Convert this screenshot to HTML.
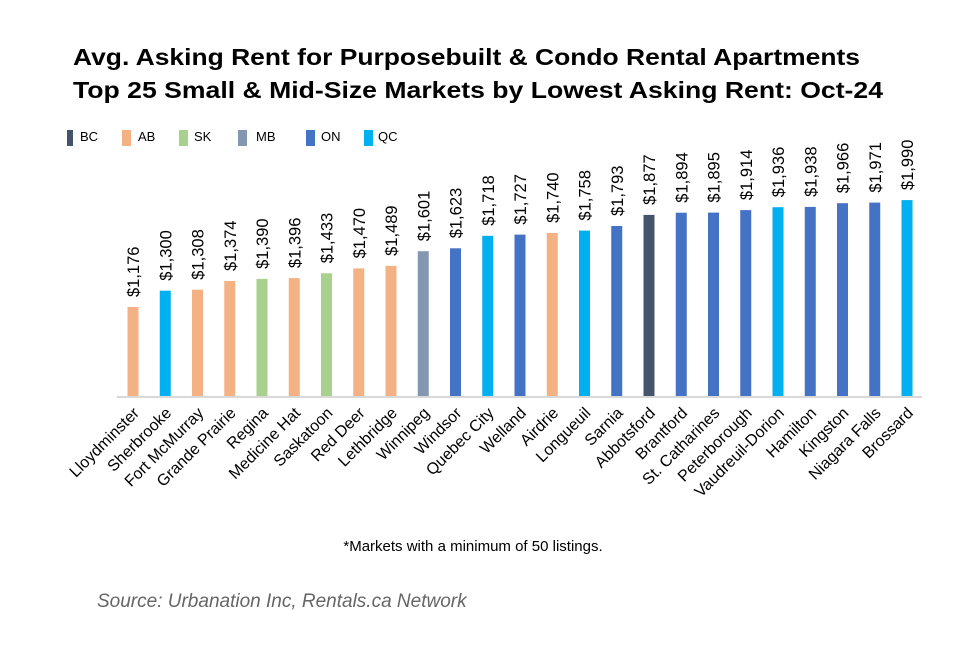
<!DOCTYPE html>
<html><head><meta charset="utf-8"><style>
body{margin:0;background:#fff;}
svg text{font-family:"Liberation Sans",Arial,sans-serif;}
</style></head><body>
<svg width="980" height="641" viewBox="0 0 980 641" xmlns="http://www.w3.org/2000/svg">
<text x="73" y="65" font-size="23.5" font-weight="bold" fill="#000" textLength="787" lengthAdjust="spacingAndGlyphs">Avg. Asking Rent for Purposebuilt &amp; Condo Rental Apartments</text>
<text x="73" y="98" font-size="23.5" font-weight="bold" fill="#000" textLength="810" lengthAdjust="spacingAndGlyphs">Top 25 Small &amp; Mid-Size Markets by Lowest Asking Rent: Oct-24</text>
<g font-size="13" fill="#000">
<rect x="67" y="130" width="6" height="16" fill="#44546a"/><text x="80" y="141">BC</text>
<rect x="122" y="130" width="9" height="16" fill="#f4b183"/><text x="138" y="141">AB</text>
<rect x="179" y="130" width="9" height="16" fill="#a9d18e"/><text x="194" y="141">SK</text>
<rect x="238" y="130" width="9" height="16" fill="#8497b0"/><text x="256" y="141">MB</text>
<rect x="306" y="130" width="9" height="16" fill="#4472c4"/><text x="321" y="141">ON</text>
<rect x="364" y="130" width="9" height="16" fill="#00b0f0"/><text x="378" y="141">QC</text>
</g>
<line x1="117" y1="397" x2="922" y2="397" stroke="#d9d9d9" stroke-width="2"/>
<g>
<rect x="127.5" y="307" width="11" height="89" fill="#f4b183"/>
<rect x="159.75" y="290.7" width="11" height="105.3" fill="#00b0f0"/>
<rect x="192" y="289.7" width="11" height="106.3" fill="#f4b183"/>
<rect x="224.25" y="281" width="11" height="115" fill="#f4b183"/>
<rect x="256.5" y="278.9" width="11" height="117.1" fill="#a9d18e"/>
<rect x="288.75" y="278.1" width="11" height="117.9" fill="#f4b183"/>
<rect x="321" y="273.3" width="11" height="122.7" fill="#a9d18e"/>
<rect x="353.25" y="268.4" width="11" height="127.6" fill="#f4b183"/>
<rect x="385.5" y="265.9" width="11" height="130.1" fill="#f4b183"/>
<rect x="417.75" y="251.2" width="11" height="144.8" fill="#8497b0"/>
<rect x="450" y="248.3" width="11" height="147.7" fill="#4472c4"/>
<rect x="482.25" y="235.8" width="11" height="160.2" fill="#00b0f0"/>
<rect x="514.5" y="234.6" width="11" height="161.4" fill="#4472c4"/>
<rect x="546.75" y="232.9" width="11" height="163.1" fill="#f4b183"/>
<rect x="579" y="230.6" width="11" height="165.4" fill="#00b0f0"/>
<rect x="611.25" y="226" width="11" height="170" fill="#4472c4"/>
<rect x="643.5" y="214.9" width="11" height="181.1" fill="#44546a"/>
<rect x="675.75" y="212.7" width="11" height="183.3" fill="#4472c4"/>
<rect x="708" y="212.6" width="11" height="183.4" fill="#4472c4"/>
<rect x="740.25" y="210.1" width="11" height="185.9" fill="#4472c4"/>
<rect x="772.5" y="207.2" width="11" height="188.8" fill="#00b0f0"/>
<rect x="804.75" y="206.9" width="11" height="189.1" fill="#4472c4"/>
<rect x="837" y="203.2" width="11" height="192.8" fill="#4472c4"/>
<rect x="869.25" y="202.6" width="11" height="193.4" fill="#4472c4"/>
<rect x="901.5" y="200.1" width="11" height="195.9" fill="#00b0f0"/>
</g>
<g font-size="16.5" fill="#000">
<text transform="translate(139,297) rotate(-90)">$1,176</text>
<text transform="translate(171.25,280.7) rotate(-90)">$1,300</text>
<text transform="translate(203.5,279.7) rotate(-90)">$1,308</text>
<text transform="translate(235.75,271) rotate(-90)">$1,374</text>
<text transform="translate(268,268.9) rotate(-90)">$1,390</text>
<text transform="translate(300.25,268.1) rotate(-90)">$1,396</text>
<text transform="translate(332.5,263.3) rotate(-90)">$1,433</text>
<text transform="translate(364.75,258.4) rotate(-90)">$1,470</text>
<text transform="translate(397,255.9) rotate(-90)">$1,489</text>
<text transform="translate(429.25,241.2) rotate(-90)">$1,601</text>
<text transform="translate(461.5,238.3) rotate(-90)">$1,623</text>
<text transform="translate(493.75,225.8) rotate(-90)">$1,718</text>
<text transform="translate(526,224.6) rotate(-90)">$1,727</text>
<text transform="translate(558.25,222.9) rotate(-90)">$1,740</text>
<text transform="translate(590.5,220.6) rotate(-90)">$1,758</text>
<text transform="translate(622.75,216) rotate(-90)">$1,793</text>
<text transform="translate(655,204.9) rotate(-90)">$1,877</text>
<text transform="translate(687.25,202.7) rotate(-90)">$1,894</text>
<text transform="translate(719.5,202.6) rotate(-90)">$1,895</text>
<text transform="translate(751.75,200.1) rotate(-90)">$1,914</text>
<text transform="translate(784,197.2) rotate(-90)">$1,936</text>
<text transform="translate(816.25,196.9) rotate(-90)">$1,938</text>
<text transform="translate(848.5,193.2) rotate(-90)">$1,966</text>
<text transform="translate(880.75,192.6) rotate(-90)">$1,971</text>
<text transform="translate(913,190.1) rotate(-90)">$1,990</text>
</g>
<g font-size="16" fill="#000" text-anchor="end">
<text transform="translate(140,414) rotate(-45)">Lloydminster</text>
<text transform="translate(172.25,414) rotate(-45)">Sherbrooke</text>
<text transform="translate(204.5,414) rotate(-45)">Fort McMurray</text>
<text transform="translate(236.75,414) rotate(-45)">Grande Prairie</text>
<text transform="translate(269,414) rotate(-45)">Regina</text>
<text transform="translate(301.25,414) rotate(-45)">Medicine Hat</text>
<text transform="translate(333.5,414) rotate(-45)">Saskatoon</text>
<text transform="translate(365.75,414) rotate(-45)">Red Deer</text>
<text transform="translate(398,414) rotate(-45)">Lethbridge</text>
<text transform="translate(430.25,414) rotate(-45)">Winnipeg</text>
<text transform="translate(462.5,414) rotate(-45)">Windsor</text>
<text transform="translate(494.75,414) rotate(-45)">Quebec City</text>
<text transform="translate(527,414) rotate(-45)">Welland</text>
<text transform="translate(559.25,414) rotate(-45)">Airdrie</text>
<text transform="translate(591.5,414) rotate(-45)">Longueuil</text>
<text transform="translate(623.75,414) rotate(-45)">Sarnia</text>
<text transform="translate(656,414) rotate(-45)">Abbotsford</text>
<text transform="translate(688.25,414) rotate(-45)">Brantford</text>
<text transform="translate(720.5,414) rotate(-45)">St. Catharines</text>
<text transform="translate(752.75,414) rotate(-45)">Peterborough</text>
<text transform="translate(785,414) rotate(-45)">Vaudreuil-Dorion</text>
<text transform="translate(817.25,414) rotate(-45)">Hamilton</text>
<text transform="translate(849.5,414) rotate(-45)">Kingston</text>
<text transform="translate(881.75,414) rotate(-45)">Niagara Falls</text>
<text transform="translate(914,414) rotate(-45)">Brossard</text>
</g>
<text x="473" y="551" font-size="15" text-anchor="middle" fill="#000">*Markets with a minimum of 50 listings.</text>
<text x="97" y="607" font-size="19" font-style="italic" fill="#666">Source: Urbanation Inc, Rentals.ca Network</text>
</svg>
</body></html>
